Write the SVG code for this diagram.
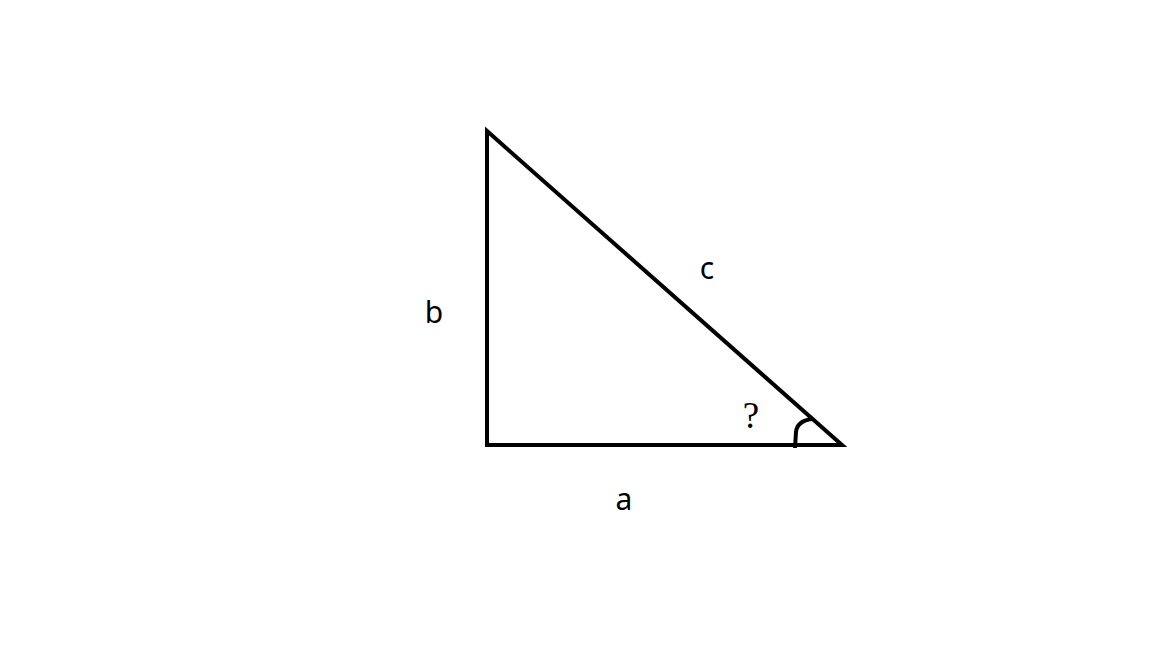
<svg xmlns="http://www.w3.org/2000/svg" width="1152" height="648" viewBox="0 0 1152 648">
<style>
.ln{fill:none;stroke:#000;stroke-width:4;stroke-linejoin:miter;}
.lbl{font-family:"Noto Sans","Open Sans",sans-serif;font-size:30px;fill:#000;text-anchor:middle;}
.q{font-family:"Liberation Serif",serif;font-size:37px;fill:#000;text-anchor:middle;}
</style>
<rect width="1152" height="648" fill="#fff"/>
<g id="connectors">
<polygon id="triangle" class="ln" points="487,131 487,445 842,445"/>
<path id="angle-arc" class="ln" d="M795,448 L796,432 Q797,421 812,419"/>
</g>
<g id="label-b"><text class="lbl" x="434" y="323">b</text></g>
<g id="label-c"><text class="lbl" x="707" y="279">c</text></g>
<g id="label-a"><text class="lbl" x="624" y="510">a</text></g>
<g id="label-q"><text class="q" x="751" y="428">?</text></g>
</svg>
